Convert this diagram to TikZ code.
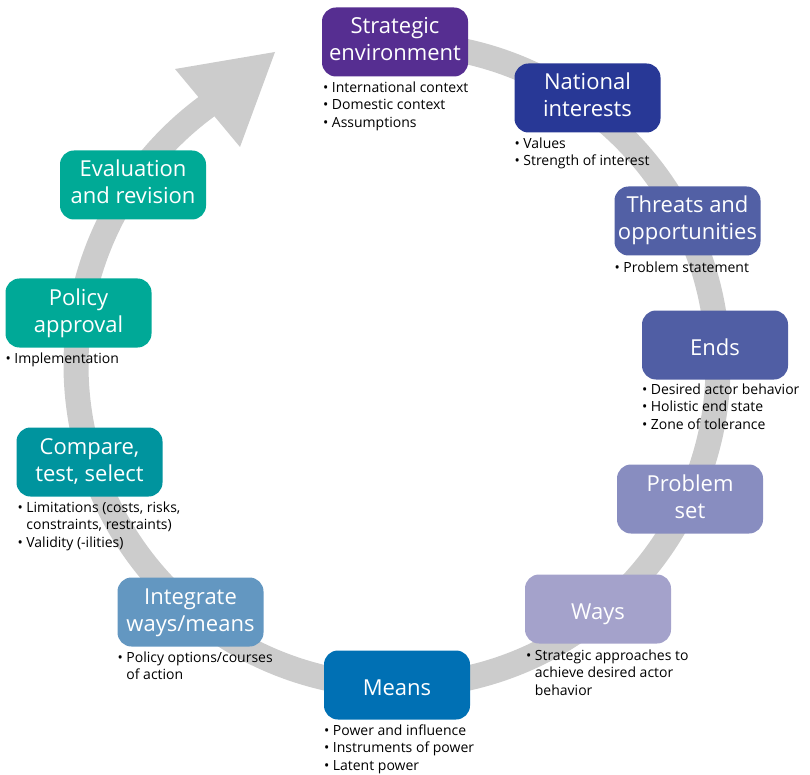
\documentclass[tikz,border=0pt]{standalone}
\usepackage{fontspec}
\setmainfont{Open Sans}
\definecolor{cSE}{RGB}{86,46,145}
\definecolor{cNI}{RGB}{40,56,150}
\definecolor{cTO}{RGB}{82,96,165}
\definecolor{cEN}{RGB}{80,94,164}
\definecolor{cPS}{RGB}{136,141,192}
\definecolor{cWA}{RGB}{164,162,203}
\definecolor{cME}{RGB}{0,112,180}
\definecolor{cIN}{RGB}{99,151,193}
\definecolor{cCO}{RGB}{0,148,158}
\definecolor{cPA}{RGB}{0,169,151}
\definecolor{cEV}{RGB}{0,170,150}
\definecolor{ringgray}{RGB}{204,204,204}
\newcommand\bitem{\textbullet\ }
\newcommand\bcont{\phantom{\textbullet\ }}
\begin{document}
\begin{tikzpicture}[x=1pt,y=-1pt,
  box/.style={rounded corners=14pt, minimum width=146pt, minimum height=69pt,
    inner sep=0pt, align=center, text=white, font=\fontsize{22}{27}\selectfont},
  boxone/.style={box, text height=20pt, text depth=0pt},
  boxtwo/.style={box, text height=42pt, text depth=4pt},
  bul/.style={anchor=north west, inner sep=0pt, align=left,
    font=\fontsize{14}{17.3}\selectfont, text=black},
  ring/.style={draw=ringgray, line width=25pt}]
\useasboundingbox (0,0) rectangle (810,775);
% ring
\coordinate (c) at (397,365);
\draw[ring] (c) ++(-95:321) arc[start angle=-95, end angle=234, radius=321];
\coordinate (tip) at (275,52);
\coordinate (wl) at (175,69);
\coordinate (wr) at (240,147);
\fill[ringgray] (wl) -- (tip) -- (wr) -- cycle;
% boxes
\node[boxtwo, fill=cSE] (se) at (395,42) {Strategic\\environment};
\node[boxtwo, fill=cNI] (ni) at (587.5,98) {National\\interests};
\node[boxtwo, fill=cTO] (to) at (687.5,221) {Threats and\\opportunities};
\node[boxone, fill=cEN] (en) at (715,345) {Ends};
\node[boxtwo, fill=cPS] (ps) at (690,499) {Problem\\set};
\node[boxone, fill=cWA] (wa) at (598,609) {Ways};
\node[boxone, fill=cME] (me) at (397,685) {Means};
\node[boxtwo, fill=cIN] (in) at (190.5,612) {Integrate\\ways/means};
\node[boxtwo, fill=cCO] (co) at (89.5,462) {Compare,\\test, select};
\node[boxtwo, fill=cPA] (pa) at (78.5,313) {Policy\\approval};
\node[boxtwo, fill=cEV] (ev) at (133,185) {Evaluation\\and revision};
% bullets
\node[bul] (seb) at ([xshift=1pt,yshift=-5pt]se.south west) {\bitem International context\\\bitem Domestic context\\\bitem Assumptions};
\node[bul] (nib) at ([xshift=0pt,yshift=-5pt]ni.south west) {\bitem Values\\\bitem Strength of interest};
\node[bul] (tob) at ([xshift=0pt,yshift=-6pt]to.south west) {\bitem Problem statement};
\node[bul] (enb) at ([xshift=0pt,yshift=-4pt]en.south west) {\bitem Desired actor behavior\\\bitem Holistic end state\\\bitem Zone of tolerance};
\node[bul] (wab) at ([xshift=1pt,yshift=-6pt]wa.south west) {\bitem Strategic approaches to\\\bcont achieve desired actor\\\bcont behavior};
\node[bul] (meb) at ([xshift=0pt,yshift=-5pt]me.south west) {\bitem Power and influence\\\bitem Instruments of power\\\bitem Latent power};
\node[bul] (inb) at ([xshift=0pt,yshift=-5pt]in.south west) {\bitem Policy options/courses\\\bcont of action};
\node[bul] (cob) at ([xshift=1pt,yshift=-5pt]co.south west) {\bitem Limitations (costs, risks,\\\bcont constraints, restraints)\\\bitem Validity (-ilities)};
\node[bul] (pab) at ([xshift=0pt,yshift=-5pt]pa.south west) {\bitem Implementation};
\end{tikzpicture}
\end{document}
